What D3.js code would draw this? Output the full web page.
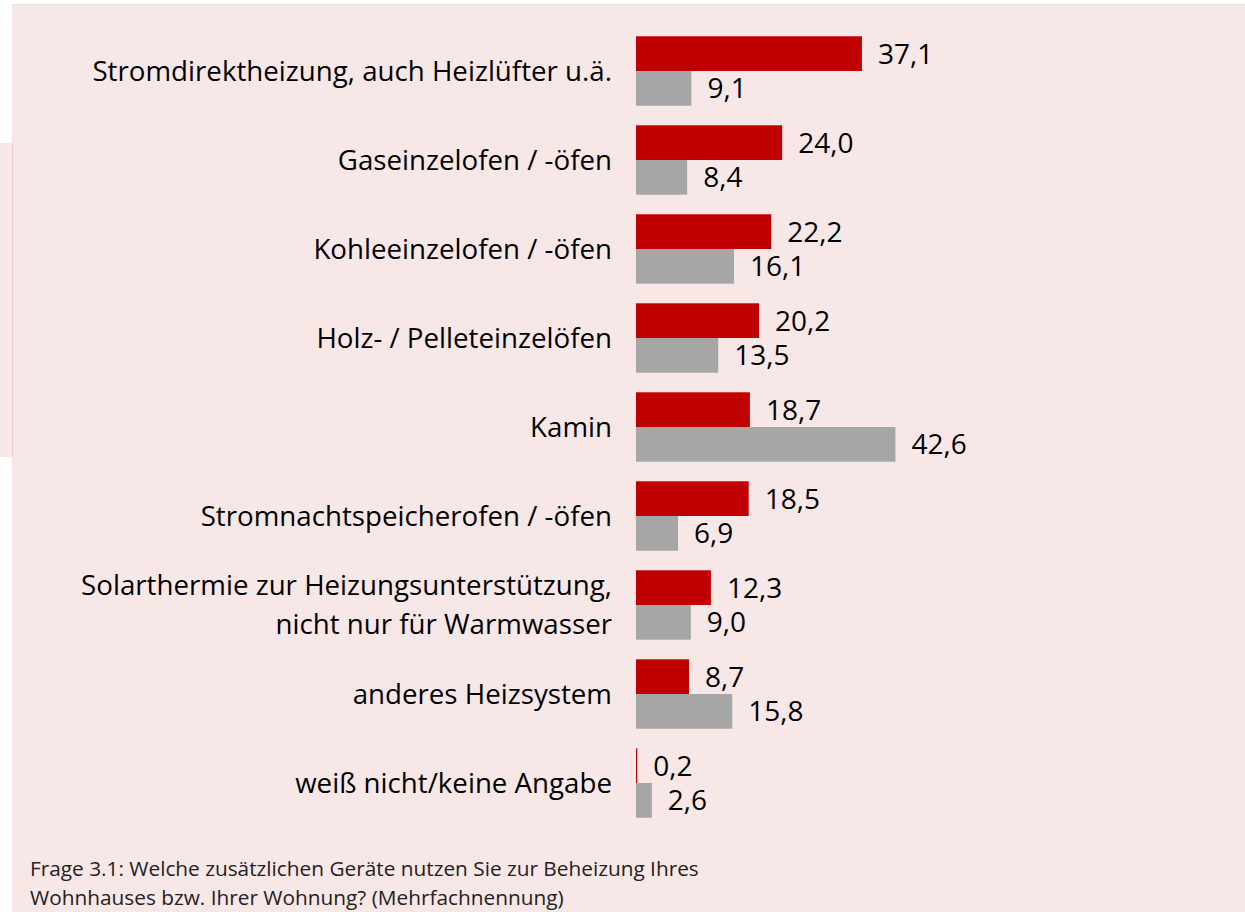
<!DOCTYPE html>
<html><head><meta charset="utf-8">
<script src="https://cdn.jsdelivr.net/npm/d3@7"></script>
<style>html,body{margin:0;padding:0;background:#fff;}svg{display:block;}</style>
</head><body>
<svg id="chart" width="1245" height="912"></svg>
<script>
const categories = [
  "Stromdirektheizung, auch Heizlüfter u.ä.",
  "Gaseinzelofen / -öfen",
  "Kohleeinzelofen / -öfen",
  "Holz- / Pelleteinzelöfen",
  "Kamin",
  "Stromnachtspeicherofen / -öfen",
  "Solarthermie zur Heizungsunterstützung,\nnicht nur für Warmwasser",
  "anderes Heizsystem",
  "weiß nicht/keine Angabe"
];
const seriesNames = ["A", "B"];
const valuesA = [37.1, 24.0, 22.2, 20.2, 18.7, 18.5, 12.3, 8.7, 0.2];
const valuesB = [9.1, 8.4, 16.1, 13.5, 42.6, 6.9, 9.0, 15.8, 2.6];
const footnote = [
  "Frage 3.1: Welche zusätzlichen Geräte nutzen Sie zur Beheizung Ihres",
  "Wohnhauses bzw. Ihrer Wohnung? (Mehrfachnennung)"
];

const svg = d3.select("#chart");
const font = "'Open Sans', sans-serif";

// background panels
svg.append("rect").attr("x", 0).attr("y", 143).attr("width", 13).attr("height", 314).attr("fill", "#f8e7e7");
svg.append("rect").attr("x", 12).attr("y", 4).attr("width", 1233).attr("height", 908).attr("fill", "#f8e7e7");
svg.append("line").attr("x1", 12.5).attr("x2", 12.5).attr("y1", 143).attr("y2", 457).attr("stroke", "#f0c8d0").attr("stroke-width", 1);
svg.append("line").attr("x1", 12).attr("x2", 1245).attr("y1", 4.5).attr("y2", 4.5).attr("stroke", "#e6e0e0").attr("stroke-width", 1);

const x = d3.scaleLinear().domain([0, 45]).range([636, 636 + 45 * 6.09]);
const y = d3.scaleBand().domain(categories).range([26.5, 827.5]).paddingInner(0.22).paddingOuter(0.11);
const ySub = d3.scaleBand().domain(seriesNames).range([0, y.bandwidth()]);
const colors = {A: "#c00000", B: "#a6a6a6"};
const loc = d3.formatLocale({decimal: ",", thousands: ".", grouping: [3], currency: ["", "€"]});
const fmt = loc.format(".1f");

const data = [];
categories.forEach((c, i) => {
  data.push({cat: c, s: "A", v: valuesA[i]});
  data.push({cat: c, s: "B", v: valuesB[i]});
});

const g = svg.append("g");
g.selectAll("rect.bar").data(data).join("rect").attr("class", "bar")
  .attr("x", x(0))
  .attr("y", d => y(d.cat) + ySub(d.s))
  .attr("width", d => x(d.v) - x(0))
  .attr("height", ySub.bandwidth())
  .attr("fill", d => colors[d.s]);

g.selectAll("text.val").data(data).join("text").attr("class", "val")
  .attr("x", d => x(d.v) + 16)
  .attr("y", d => y(d.cat) + ySub(d.s) + ySub.bandwidth() / 2)
  .attr("dy", "0.36em")
  .attr("font-family", font).attr("font-size", 28).attr("fill", "#000")
  .text(d => fmt(d.v));

// category axis labels
const yAxis = d3.axisLeft(y).tickSize(0).tickPadding(0);
const ax = svg.append("g").attr("transform", "translate(612,0)").call(yAxis);
ax.select(".domain").remove();
ax.selectAll(".tick text").each(function(d) {
  const t = d3.select(this);
  const lines = d.split("\n");
  t.text(null).attr("font-family", font).attr("font-size", 27.7).attr("fill", "#000")
   .attr("text-anchor", "end").attr("x", 0).attr("dy", null).attr("y", 0);
  const lh = 39;
  lines.forEach((ln, k) => {
    t.append("tspan").attr("x", 0)
      .attr("y", (k - (lines.length - 1) / 2) * lh)
      .attr("dy", "0.36em").text(ln);
  });
});

svg.append("g").selectAll("text").data(footnote).join("text")
  .attr("x", 30).attr("y", (d, i) => 876 + i * 29)
  .attr("font-family", font).attr("font-size", 20.8).attr("fill", "#222")
  .text(d => d);
</script>
</body></html>
